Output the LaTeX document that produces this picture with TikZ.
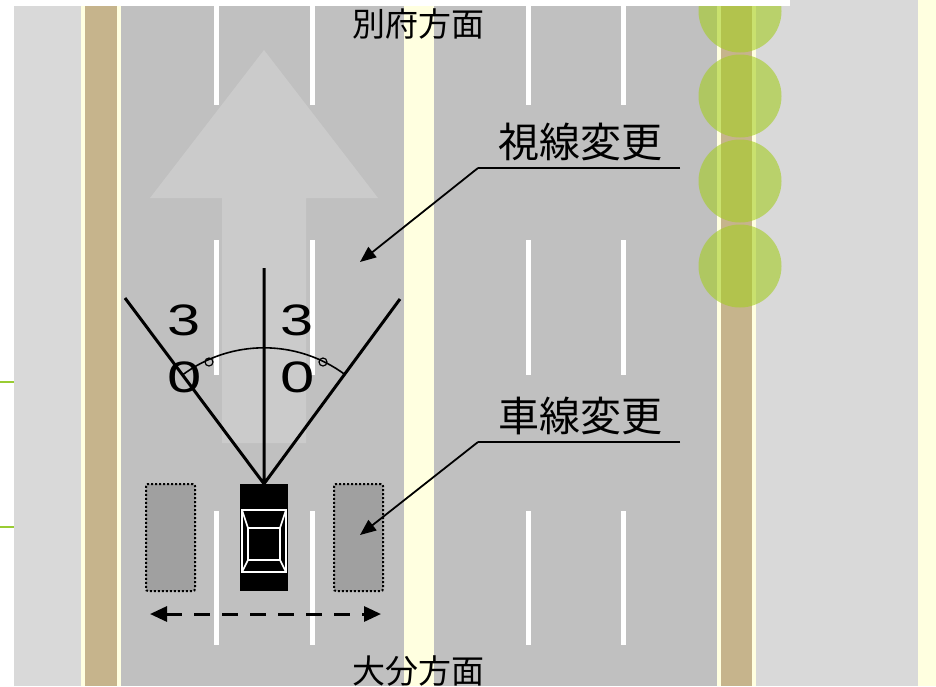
\documentclass[tikz,border=0pt]{standalone}
\usepackage{fontspec}
\setmainfont{Liberation Sans}
\newfontfamily\jpfont{Noto Sans CJK JP}
\usetikzlibrary{arrows.meta}
\definecolor{road}{HTML}{C0C0C0}
\definecolor{walk}{HTML}{D9D9D9}
\definecolor{soil}{HTML}{C6B48C}
\definecolor{paleyel}{HTML}{FFFFE0}
\definecolor{arrowgr}{HTML}{CBCBCB}
\definecolor{ghost}{HTML}{A0A0A0}
\definecolor{leaf}{RGB}{165,205,35}
\definecolor{twig}{HTML}{99CC33}
\tikzset{
  lane/.style={white, line width=5pt},
  tag/.style={font=\jpfont\fontsize{41}{41}\selectfont, inner sep=0pt},
  place/.style={font=\jpfont\fontsize{33}{33}\selectfont, inner sep=0pt},
  deg/.style={font=\fontsize{44}{44}\selectfont, inner sep=0pt},
  sight/.style={line width=3pt},
  leader/.style={line width=1.8pt, -{Triangle[length=16pt,width=13pt]}},
  ghostcar/.style={draw, dash pattern=on 2pt off 2pt, line width=2pt, fill=ghost, rounded corners=2pt,
    minimum width=49pt, minimum height=107pt, inner sep=0pt},
  tree/.style={circle, fill=leaf, fill opacity=0.6, minimum size=83pt, inner sep=0pt}
}

\begin{document}
\begin{tikzpicture}[x=1pt,y=-1pt]
  \useasboundingbox (0,0) rectangle (936,686);
  % ground: sidewalks, planting strips, road
  \fill[walk] (14,0) rectangle (81,686);
  \fill[paleyel] (81,0) rectangle (121,686);
  \fill[soil] (85,0) rectangle (117,686);
  \fill[road] (121,0) rectangle (717,686);
  \fill[paleyel] (404,0) rectangle (434,686);
  \fill[paleyel] (717,0) rectangle (756,686);
  \fill[soil] (721,0) rectangle (752,686);
  \fill[walk] (756,0) rectangle (918,686);
  \fill[paleyel] (918,0) rectangle (936,686);
  \draw[twig, line width=2pt] (0,382) -- (14,382) (0,527) -- (14,527);
  % lane marks
  \foreach \x in {216,312,528,623}
    \draw[lane] (\x,0) -- (\x,105) (\x,240) -- (\x,375) (\x,511) -- (\x,645);
  % road arrow
  \fill[arrowgr] (264,50) -- (378,198) -- (306,198) -- (306,443) -- (222,443)
    -- (222,198) -- (150,198) -- cycle;
  % roadside trees
  \foreach \y [count=\i] in {11,96,181,266}
    \node[tree] (tree\i) at (740,\y) {};
  \fill[white] (0,0) rectangle (790,6);

  \node[place] (north) at (418,24) {別府方面};
  \node[place] (south) at (418,671) {大分方面};

  % cars
  \node[ghostcar] (leftcar) at (170.5,537.5) {};
  \node[ghostcar] (rightcar) at (358.5,537.5) {};
  \node[fill=black, minimum width=48pt, minimum height=107pt, inner sep=0pt] (car) at (264,537.5) {};
  \begin{scope}[shift={(car.center)}, white, line width=1.6pt]
    \draw (-22,-27.5) rectangle (22,34.5);
    \draw (-16,-9.5) rectangle (16,22.5);
    \draw (-22,-27.5) -- (-16,-9.5) (22,-27.5) -- (16,-9.5)
          (-22,34.5) -- (-16,22.5) (22,34.5) -- (16,22.5);
  \end{scope}

  % field of view
  \coordinate (viewL) at (125,298);
  \coordinate (viewC) at (264,268);
  \coordinate (viewR) at (400,299);
  \draw[sight] (viewL) -- (car.north) -- (viewR) (viewC) -- (car.north);
  \draw[line width=1.6pt] (car.north) ++(126.5:136pt) arc[start angle=126.5, end angle=53.5, radius=136pt];
  \node[deg] (d1) at (184.5,320) {\scalebox{1.35}[1]{3}};
  \node[deg] (d2) at (184.5,377) {\scalebox{1.4}[1]{0}};
  \node[deg] (d3) at (297.5,320) {\scalebox{1.35}[1]{3}};
  \node[deg] (d4) at (298,377) {\scalebox{1.4}[1]{0}};
  \draw[line width=1.2pt] (209,362) circle[radius=4pt] (323,362) circle[radius=4pt];

  % lane change sweep
  \coordinate (sweepL) at (150,614);
  \coordinate (sweepR) at (381,614);
  \draw[line width=3pt, dash pattern=on 16pt off 12pt,
    {Triangle[length=17pt,width=15pt]}-{Triangle[length=17pt,width=15pt]}] (sweepL) -- (sweepR);

  % callouts
  \node[tag] (gaze) at (580,142) {視線変更};
  \coordinate (gazeA) at (478,168);
  \coordinate (gazeB) at (680,168);
  \coordinate (gazeT) at (360,262);
  \draw[line width=1.8pt] (gazeB) -- (gazeA);
  \draw[leader] (gazeA) -- (gazeT);

  \node[tag] (lanechg) at (580,416) {車線変更};
  \coordinate (laneA) at (478,442);
  \coordinate (laneB) at (680,442);
  \coordinate (laneT) at (360,535);
  \draw[line width=1.8pt] (laneB) -- (laneA);
  \draw[leader] (laneA) -- (laneT);
\end{tikzpicture}
\end{document}
